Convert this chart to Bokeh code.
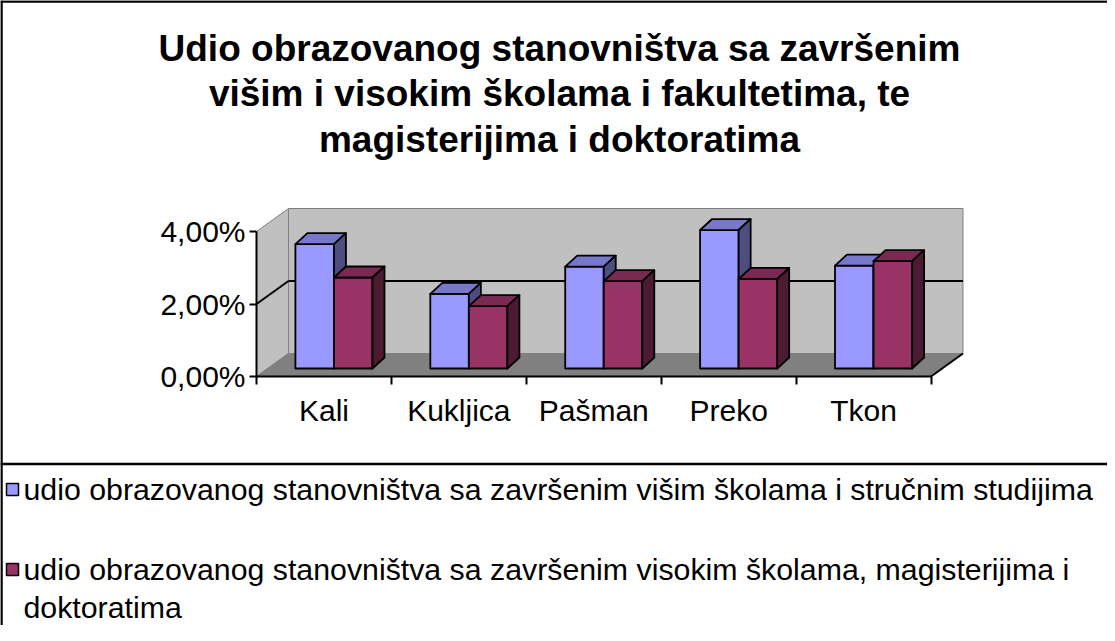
from bokeh.plotting import figure
from bokeh.models import Range1d, LinearAxis, FixedTicker, ColumnDataSource
from bokeh.core.properties import value
from bokeh.embed import file_html
from bokeh.resources import INLINE

# ---------------- data ----------------
categories = ["Kali", "Kukljica", "Pašman", "Preko", "Tkon"]
series_names = [
    "udio obrazovanog stanovništva  sa završenim višim školama i stručnim studijima",
    "udio obrazovanog stanovništva sa završenim visokim školama, magisterijima i",
]
legend_second_line = "doktoratima"
visi_strucni = [3.43, 2.06, 2.81, 3.82, 2.84]      # % (blue)
visoki_mag_dr = [2.51, 1.72, 2.41, 2.47, 2.96]     # % (maroon)
y_ticks = [0, 2, 4]
y_tick_labels = ["0,00%", "2,00%", "4,00%"]
title_lines = [
    "Udio obrazovanog stanovništva sa završenim",
    "višim i visokim školama i fakultetima, te",
    "magisterijima i doktoratima",
]

# ---------------- layout ----------------
W, H = 1107, 625
PAGE = 8
X0_PX, Y0_PX = 264, 384      # page position of data origin (front axis corner)
SX = 134.9                   # px per category
SY = 36.25                   # px per 1 %
xa = -(X0_PX - PAGE) / SX
xb = xa + W / SX
yb = (Y0_PX - PAGE) / SY
ya = yb - H / SY


def X(px):
    return xa + (px - PAGE) / SX


def Y(py):
    return yb - (py - PAGE) / SY


FONT = "Liberation Sans"
n = len(categories)
ymax = y_ticks[-1]
DX, DY = 32 / SX, 23 / SY          # wall depth
OX, OY = 10 / SX, 8 / SY           # bar front plane offset
BX, BY = 12 / SX, 11 / SY          # bar depth
BW = 1 / 3.5                       # bar width (gap 150%)

colors = [
    ("#9999FF", "#7777CC", "#4D4D80"),
    ("#993366", "#7A2952", "#4D1A33"),
]

p = figure(width=W, height=H, x_range=Range1d(xa, xb), y_range=Range1d(ya, yb),
           min_border=0, x_axis_location=None, y_axis_location=None,
           toolbar_location=None, output_backend="svg")
p.outline_line_color = None
p.background_fill_color = "white"
p.border_fill_color = "white"
p.xgrid.visible = False
p.ygrid.visible = False

# walls and floor
p.patch([0, DX, DX, 0], [0, DY, ymax + DY, ymax], fill_color="#C0C0C0",
        line_color="#808080", line_width=1)
p.patch([DX, n + DX, n + DX, DX], [DY, DY, ymax + DY, ymax + DY], fill_color="#C0C0C0",
        line_color="#808080", line_width=1)
p.patch([0, n, n + DX, DX], [0, 0, DY, DY], fill_color="#808080",
        line_color="#808080", line_width=1)
p.segment(x0=[n], y0=[0], x1=[n + DX], y1=[DY], line_color="black", line_width=2)

# gridlines (interior ticks)
for t in y_ticks[1:-1]:
    p.segment(x0=[0, DX], y0=[t, t + DY], x1=[DX, n + DX], y1=[t + DY, t + DY],
              line_color="black", line_width=2)

# bars (3D boxes)
xs, ys, fills = [], [], []
for i in range(n):
    for s, vals in enumerate([visi_strucni, visoki_mag_dr]):
        v = vals[i]
        x0 = i + 0.5 - BW + s * BW + OX
        x1 = x0 + BW
        b = OY
        t = v + OY
        front, top, side = colors[s]
        xs.append([x0, x1, x1, x0]); ys.append([b, b, t, t]); fills.append(front)
        xs.append([x0, x1, x1 + BX, x0 + BX]); ys.append([t, t, t + BY, t + BY]); fills.append(top)
        xs.append([x1, x1 + BX, x1 + BX, x1]); ys.append([b, b + BY, t + BY, t]); fills.append(side)
src = ColumnDataSource(dict(xs=xs, ys=ys, fill=fills))
p.patches("xs", "ys", source=src, fill_color="fill", line_color="black",
          line_width=1.8, line_join="round")

# axes
yaxis = LinearAxis(fixed_location=0, ticker=FixedTicker(ticks=y_ticks, minor_ticks=[]),
                   bounds=(0, ymax),
                   major_label_overrides={t: l for t, l in zip(y_ticks, y_tick_labels)})
yaxis.axis_line_width = 2
yaxis.major_tick_line_width = 2
yaxis.major_tick_in = 0
yaxis.major_tick_out = 7
yaxis.major_label_standoff = 4
yaxis.major_label_text_font = FONT
yaxis.major_label_text_font_size = "30px"
yaxis.major_label_text_color = "black"
p.add_layout(yaxis, "left")

centers = [i + 0.5 for i in range(n)]
xaxis = LinearAxis(fixed_location=0,
                   ticker=FixedTicker(ticks=centers, minor_ticks=list(range(n + 1))),
                   bounds=(0, n),
                   major_label_overrides={c: l for c, l in zip(centers, categories)})
xaxis.axis_line_width = 2
xaxis.major_tick_in = 0
xaxis.major_tick_out = 0
xaxis.minor_tick_in = 0
xaxis.minor_tick_out = 8
xaxis.minor_tick_line_width = 2
xaxis.minor_tick_line_color = "black"
xaxis.major_label_standoff = 9
xaxis.major_label_text_font = FONT
xaxis.major_label_text_font_size = "30px"
xaxis.major_label_text_color = "black"
p.add_layout(xaxis, "below")

# chart border (top / left) and legend divider
p.segment(x0=[X(8), X(9)], y0=[Y(9), Y(8)], x1=[X(1120), X(9)], y1=[Y(9), Y(640)],
          line_color="black", line_width=2.5)
p.segment(x0=[X(8)], y0=[Y(471.5)], x1=[X(1120)], y1=[Y(471.5)],
          line_color="black", line_width=2.5)

# title
p.text(x=[X(567)] * 3, y=[Y(56), Y(101), Y(147)], text=title_lines,
       text_font=value(FONT), text_font_style="bold", text_font_size="37px",
       text_align="center", text_baseline="middle", text_color="black")

# legend
leg_y = [497, 577]
for s in range(2):
    yc = leg_y[s]
    p.quad(left=[X(14)], right=[X(26)], top=[Y(yc - 6)], bottom=[Y(yc + 6)],
           fill_color=colors[s][0], line_color="black", line_width=1.5)
p.text(x=[X(31)] * 3, y=[Y(497), Y(577), Y(615)],
       text=[series_names[0], series_names[1], legend_second_line],
       text_font=value(FONT), text_font_size="30.3px", text_align="left",
       text_baseline="middle", text_color="black")

open("out.html", "w").write(file_html(p, INLINE))
